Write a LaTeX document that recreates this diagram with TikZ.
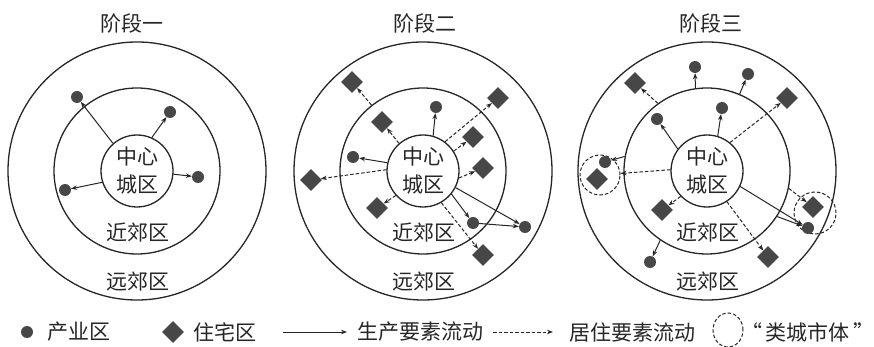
\documentclass[tikz,border=0pt]{standalone}
\usepackage{fontspec}
\newfontfamily\cjk{Noto Sans CJK SC}
\usetikzlibrary{calc,shapes.geometric,arrows.meta}

\begin{document}
\begin{tikzpicture}[x=1pt, y=-1pt, font=\cjk\fontsize{21}{28}\selectfont, text=black!85,
    ring/.style={draw=black!85, line width=1.3pt, circle, inner sep=0pt},
    ind/.style={circle, fill=black!72, inner sep=0pt, minimum size=12pt},
    res/.style={diamond, fill=black!72, inner sep=0pt, minimum size=22pt},
    prodflow/.style={draw=black!85, line width=1pt, -{Stealth[length=6pt,width=4.5pt]}},
    homeflow/.style={prodflow, dash pattern=on 3.5pt off 2pt},
    cluster/.style={draw=black!85, line width=1pt, dash pattern=on 3.5pt off 2pt, inner sep=0pt}]
    \def\Rh{72pt} \def\Rn{166pt} \def\Rf{258pt}
    \useasboundingbox (0, 0) rectangle (874, 347);
    \coordinate (o1) at (137, 171);
    \coordinate (o2) at (423, 171);
    \coordinate (o3) at (707, 171);

    % stage one
    \node at (132, 24) {阶段一};
    \node[ring, minimum size=\Rf] (far1) at (o1) {};
    \node[ring, minimum size=\Rn] (near1) at (o1) {};
    \node[ring, minimum size=\Rh, align=center] (hub1) at (o1) {中心\\城区};
    \node (lbn1) at ($ (o1) + (1, 62) $) {近郊区};
    \node (lbf1) at ($ (o1) + (1, 111) $) {远郊区};
    \node[ind] (i1a) at (77, 97) {};
    \node[ind] (i1b) at (170, 112) {};
    \node[ind] (i1c) at (198, 177) {};
    \node[ind] (i1d) at (65, 190) {};
    \draw[prodflow] (hub1.131) -- (i1a);
    \draw[prodflow] (hub1.66) -- (i1b);
    \draw[prodflow] (hub1.-5) -- (i1c);
    \draw[prodflow] (hub1.198) -- (i1d);

    % stage two
    \node at (425, 24) {阶段二};
    \node[ring, minimum size=\Rf] (far2) at (o2) {};
    \node[ring, minimum size=\Rn] (near2) at (o2) {};
    \node[ring, minimum size=\Rh, align=center] (hub2) at (o2) {中心\\城区};
    \node (lbn2) at ($ (o2) + (1, 62) $) {近郊区};
    \node (lbf2) at ($ (o2) + (1, 111) $) {远郊区};
    \node[res] (r2a) at (352, 82) {};
    \node[res] (r2b) at (382, 122) {};
    \node[ind] (i2a) at (436, 107) {};
    \node[res] (r2c) at (498, 98) {};
    \node[res] (r2d) at (473, 137) {};
    \node[res] (r2e) at (483, 168) {};
    \node[ind] (i2b) at (353, 157) {};
    \node[res] (r2f) at (311, 180) {};
    \node[res] (r2g) at (377, 208) {};
    \node[ind] (i2c) at (473, 223) {};
    \node[ind] (i2d) at (525, 227) {};
    \node[res] (r2h) at (483, 255) {};
    \draw[homeflow] (near2.128) -- (r2a);
    \draw[homeflow] (hub2.131) -- (r2b);
    \draw[prodflow] (hub2.74) -- (i2a);
    \draw[homeflow] (hub2.53) -- (r2c);
    \draw[homeflow] (hub2.33) -- (r2d);
    \draw[homeflow] (hub2.-11) -- (r2e);
    \draw[prodflow] (hub2.167) -- (i2b);
    \draw[homeflow] (hub2.178) -- (r2f);
    \draw[homeflow] (hub2.222) -- (r2g);
    \draw[prodflow] (hub2.-39) -- (i2c);
    \draw[prodflow] (hub2.-27) -- (i2d);
    \draw[prodflow] (i2c) -- (i2d);
    \draw[homeflow] (hub2.-60) -- (r2h);

    % stage three
    \node at (711, 24) {阶段三};
    \node[ring, minimum size=\Rf] (far3) at (o3) {};
    \node[ring, minimum size=\Rn] (near3) at (o3) {};
    \node[ring, minimum size=\Rh, align=center] (hub3) at (o3) {中心\\城区};
    \node (lbn3) at ($ (o3) + (1, 62) $) {近郊区};
    \node (lbf3) at ($ (o3) + (1, 111) $) {远郊区};
    \node[ind] (i3a) at (695, 67) {};
    \node[ind] (i3b) at (748, 74) {};
    \node[res] (r3a) at (635, 83) {};
    \node[res] (r3b) at (787, 98) {};
    \node[ind] (i3c) at (722, 108) {};
    \node[ind] (i3d) at (657, 119) {};
    \node[cluster, circle, minimum size=40pt] (cA) at (600, 175) {};
    \node[ind] (i3e) at (605, 162) {};
    \node[res] (r3c) at (597, 179) {};
    \node[cluster, circle, minimum size=42pt] (cB) at (815, 213) {};
    \node[res] (r3d) at (813, 207) {};
    \node[ind] (i3f) at (808, 228) {};
    \node[res] (r3e) at (662, 210) {};
    \node[res] (r3f) at (768, 257) {};
    \node[ind] (i3g) at (650, 262) {};
    \draw[prodflow] (near3.98) -- (i3a);
    \draw[prodflow] (near3.67) -- (i3b);
    \draw[homeflow] (near3.126) -- (r3a);
    \draw[homeflow] (hub3.51) -- (r3b);
    \draw[prodflow] (hub3.73) -- (i3c);
    \draw[prodflow] (hub3.143) -- (i3d);
    \draw[homeflow] (hub3.178) -- (cA);
    \draw[prodflow] (near3.170) -- (i3e);
    \draw[prodflow] (hub3.-25) -- (i3f);
    \draw[prodflow] (near3.-33) -- (i3f);
    \draw[homeflow] (near3.-12) -- (r3d);
    \draw[homeflow] (hub3.224) -- (r3e);
    \draw[homeflow] (hub3.-57) -- (r3f);
    \draw[prodflow] (near3.236) -- (i3g);

    % legend
    \node[ind] (k1) at (27, 332) {};
    \node (t1) at (79, 332) {产业区};
    \node[res] (k2) at (173, 332) {};
    \node (t2) at (225, 332) {住宅区};
    \coordinate (k3a) at (283, 332);
    \coordinate (k3b) at (347, 332);
    \draw[prodflow] (k3a) -- (k3b);
    \node (t3) at (420, 332) {生产要素流动};
    \coordinate (k4a) at (493, 332);
    \coordinate (k4b) at (553, 332);
    \draw[homeflow] (k4a) -- (k4b);
    \node (t4) at (632, 332) {居住要素流动};
    \node[cluster, ellipse, minimum width=30pt, minimum height=34pt] (k5) at (728, 330) {};
    \node (t5) at (808, 332) {“\,类城市体\,”};
\end{tikzpicture}
\end{document}
